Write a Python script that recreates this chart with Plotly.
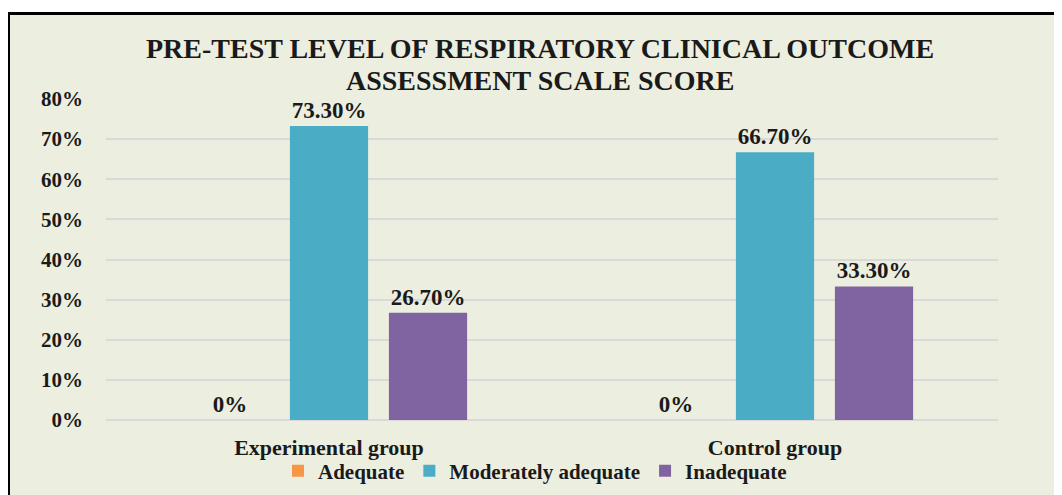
import plotly.graph_objects as go

categories = ["Experimental group", "Control group"]
series_names = ["Adequate", "Moderately adequate", "Inadequate"]
adequate = [0.0, 0.0]
moderately_adequate = [0.733, 0.667]
inadequate = [0.267, 0.333]
tick_values = [0, 0.1, 0.2, 0.3, 0.4, 0.5, 0.6, 0.7, 0.8]
tick_labels = ["0%", "10%", "20%", "30%", "40%", "50%", "60%", "70%", "80%"]
colors = ["#F79646", "#4BACC6", "#8064A2"]
title_lines = ["PRE-TEST LEVEL OF RESPIRATORY CLINICAL OUTCOME", "ASSESSMENT SCALE SCORE"]

def fmt(v):
    return "0%" if v == 0 else f"{v*100:.2f}%"

FONT = "Liberation Serif"
BG = "#ECEFDF"
OFF = 8  # page body margin
W, H = 1062 - OFF, 495 - OFF
# plot area in page pixel coords
PX0, PX1, PY0, PY1 = 106, 998, 99, 420
L, T = PX0 - OFF, PY0 - OFF
R, B = W - (PX1 - OFF), H - (PY1 - OFF)
pw, ph = W - L - R, H - T - B

def px_x(x):
    return (x - PX0) / pw

def px_y(y):
    return (PY1 - y) / ph

fig = go.Figure()
for name, vals, col in zip(series_names, [adequate, moderately_adequate, inadequate], colors):
    fig.add_trace(go.Bar(
        x=categories, y=vals, name=f"<b>{name}</b>",
        marker=dict(color=col, line=dict(width=0)),
        text=[fmt(v) for v in vals], textposition="outside",
        texttemplate="<b>%{text}</b>",
        textfont=dict(family=FONT, size=23, color="#1a1a1a"),
        cliponaxis=False,
    ))

fig.add_shape(type="rect", xref="paper", yref="paper",
              x0=px_x(8.5), x1=px_x(1062 + 20), y0=px_y(495 + 20), y1=px_y(13.5),
              fillcolor=BG, line=dict(color="black", width=3), layer="below")

for line, ypix in zip(title_lines, [48, 80]):
    fig.add_annotation(text=f"<b>{line}</b>", xref="paper", yref="paper",
                       x=px_x(540), y=px_y(ypix), xanchor="center", yanchor="middle",
                       showarrow=False, font=dict(family=FONT, size=28, color="#1a1a1a"))

fig.update_layout(
    width=W, height=H,
    margin=dict(l=L, r=R, t=T, b=B, autoexpand=False),
    paper_bgcolor="white", plot_bgcolor="rgba(0,0,0,0)",
    barmode="group", bargap=0.334, bargroupgap=0.21,
    font=dict(family=FONT, color="#1a1a1a"),
    xaxis=dict(tickfont=dict(family=FONT, size=22, color="#1a1a1a"), showgrid=False,
               showline=False, ticks="", ticklabelstandoff=12, automargin=False,
               tickvals=categories, ticktext=[f"<b>{c}</b>" for c in categories]),
    yaxis=dict(range=[0, 0.8], tickvals=tick_values, ticktext=[f"<b>{t}</b>" for t in tick_labels],
               tickfont=dict(family=FONT, size=21, color="#1a1a1a"),
               showgrid=True, gridcolor="#D9D9D9", gridwidth=2,
               zeroline=True, zerolinecolor="#D9D9D9", zerolinewidth=2,
               showline=False, ticks="", ticklabelstandoff=22, automargin=False),
    legend=dict(orientation="h", x=px_x(535), xanchor="center", y=px_y(471), yanchor="middle",
                font=dict(family=FONT, size=21, color="#1a1a1a"), bgcolor="rgba(0,0,0,0)",
                itemwidth=30, tracegroupgap=0),
    showlegend=True,
)
fig.write_html("out.html")
